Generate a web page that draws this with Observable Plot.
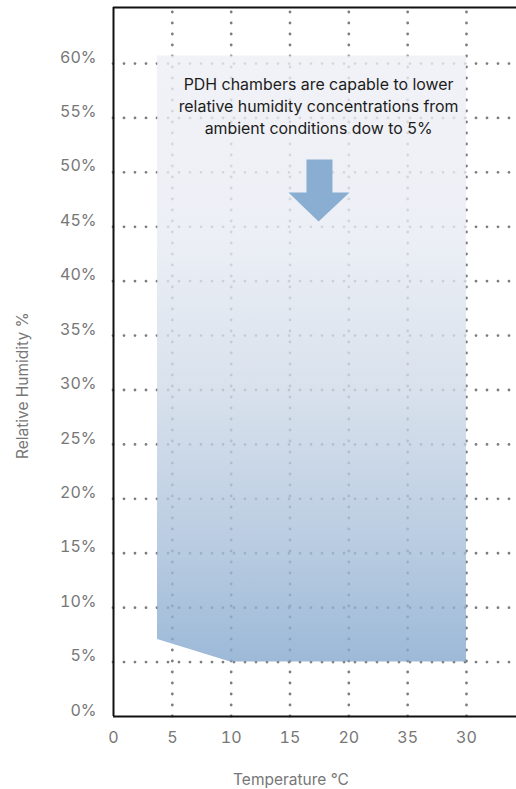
<!DOCTYPE html>
<html>
<head>
<meta charset="utf-8">
<script src="https://cdn.jsdelivr.net/npm/d3@7"></script>
<script src="https://cdn.jsdelivr.net/npm/@observablehq/plot@0.6"></script>
<style>
  html, body { margin: 0; padding: 0; background: #fff; }
  #chart svg { display: block; }
</style>
</head>
<body>
<div id="chart"></div>
<script>
// ---- data ----
const xTicks = [0, 5, 10, 15, 20, 25, 30];
const xTickLabels = ["0", "5", "10", "15", "20", "35", "30"];
const yTicks = [0, 5, 10, 15, 20, 25, 30, 35, 40, 45, 50, 55, 60];
const xGrid = [5, 10, 15, 20, 25, 30];
const yGrid = [5, 10, 15, 20, 25, 30, 35, 40, 45, 50, 55, 60];

// capability region (temperature °C, RH % lower / upper)
const regionX = [3.74, 9.95, 30];
const regionLow = [7.07, 5, 5];
const regionHigh = [60.7, 60.7, 60.7];

// arrow outline (temperature °C, RH %)
const arrowX = [16.40, 18.61, 18.61, 20.06, 17.43, 14.87, 16.40, 16.40];
const arrowY = [51.18, 51.18, 48.15, 48.15, 45.48, 48.15, 48.15, 51.18];

const annotationLines = [
  "PDH chambers are capable to lower",
  "relative humidity concentrations from",
  "ambient conditions dow to 5%"
];
const annotationPos = {x: 17.43, y: 56.2};

const xLabel = "Temperature °C";
const yLabel = "Relative Humidity %";
const yLabelPos = {x: -7.73, y: 30.4};

// ---- build tables ----
const region = regionX.map((x, i) => ({x, y1: regionLow[i], y2: regionHigh[i]}));
const arrow = arrowX.map((x, i) => ({x, y: arrowY[i]}));

const xMax = 34.25, yMax = 65.15;
const font = "Inter, 'Liberation Sans', Arial, sans-serif";

const gradientDefs = () => {
  const defs = d3.create("svg:defs");
  const g = defs.append("linearGradient")
    .attr("id", "rhgrad").attr("x1", 0).attr("y1", 0).attr("x2", 0).attr("y2", 1);
  [[0, "#eeeff5"], [0.3, "#e7ebf3"], [0.55, "#cfdae8"], [0.8, "#a9c0da"], [1, "#84a8ce"]]
    .forEach(([o, c]) => g.append("stop").attr("offset", o).attr("stop-color", c));
  return defs.node();
};

const dots = {stroke: "#7d7d7d", strokeWidth: 2.8, strokeLinecap: "round", strokeDasharray: "0,11"};

const chart = Plot.plot({
  width: 516,
  height: 789,
  marginLeft: 113,
  marginRight: 0,
  marginTop: 7,
  marginBottom: 73,
  style: {fontFamily: font, background: "#fff", color: "#777"},
  x: {domain: [0, xMax], label: null},
  y: {domain: [0, yMax], label: null},
  marks: [
    gradientDefs,
    Plot.ruleX(xGrid, {...dots, y1: 0, y2: yMax}),
    Plot.ruleY(yGrid, {...dots, x1: 0, x2: xMax}),
    Plot.areaY(region, {x: "x", y1: "y1", y2: "y2", fill: "url(#rhgrad)", fillOpacity: 0.8}),
    Plot.line(arrow, {x: "x", y: "y", fill: "#8aaed1", stroke: "none"}),
    Plot.text([annotationLines.join("\n")], {
      x: () => annotationPos.x, y: () => annotationPos.y,
      fontSize: 15.9, lineHeight: 1.38, fill: "#1c1c1c", textAnchor: "middle"
    }),
    Plot.ruleX([0], {stroke: "#111", strokeWidth: 2}),
    Plot.ruleY([0], {stroke: "#111", strokeWidth: 2}),
    Plot.ruleY([yMax], {stroke: "#111", strokeWidth: 2}),
    Plot.axisX(xTicks, {
      tickSize: 0, tickPadding: 15, fontSize: 16, fill: "#777",
      tickFormat: (d) => xTickLabels[xTicks.indexOf(d)], label: null
    }),
    Plot.axisY(yTicks, {
      tickSize: 0, tickPadding: 17, fontSize: 16, fill: "#777", dy: -6,
      tickFormat: (d) => d + "%", label: null
    }),
    Plot.text([xLabel], {frameAnchor: "bottom", dy: 68, dx: -24, fontSize: 15.5, fill: "#777"}),
    Plot.text([yLabel], {x: () => yLabelPos.x, y: () => yLabelPos.y, rotate: -90, fontSize: 15.5, fill: "#777"})
  ]
});

document.getElementById("chart").append(chart);
</script>
</body>
</html>
